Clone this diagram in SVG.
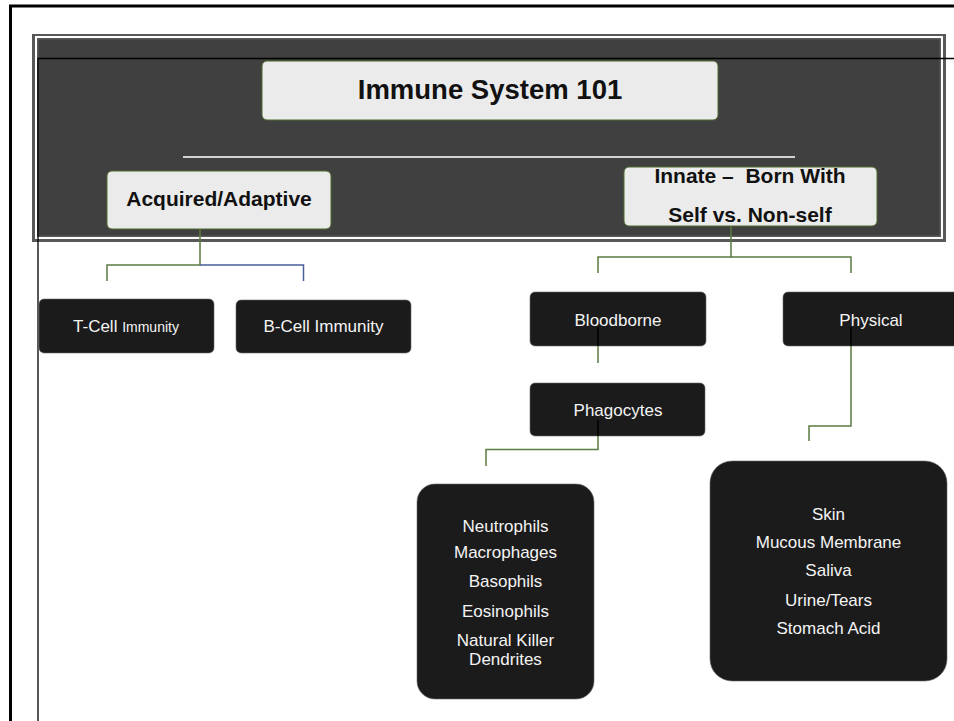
<svg xmlns="http://www.w3.org/2000/svg" width="954" height="721" viewBox="0 0 954 721">
<style>
  .lbl { font-family: "Liberation Sans", Arial, sans-serif; }
  .light { fill: #ebebeb; stroke: #4f6b2e; stroke-width: 1; }
  .dark { fill: #1b1b1b; stroke: #6a6a6a; stroke-width: 0.6; }
  .bold { font-family: "Liberation Sans", Arial, sans-serif; font-weight: bold; fill: #111; text-anchor: middle; }
  .wt { font-family: "Liberation Sans", Arial, sans-serif; font-size: 17px; fill: #f4f4f4; text-anchor: middle; }
  .g { stroke: #5b7b40; stroke-width: 1.5; fill: none; }
  .b { stroke: #4a5f99; stroke-width: 1.5; fill: none; }
  .k { stroke: #000; stroke-width: 1.5; fill: none; }
</style>
<rect width="954" height="721" fill="#ffffff"/>
<g id="frame">
  <path d="M10.5 721 V6 H954" fill="none" stroke="#000" stroke-width="3"/>
</g>
<g id="panel">
  <rect x="32" y="34" width="914" height="208" fill="#595959"/>
  <rect x="35" y="36" width="908" height="203" fill="#ffffff"/>
  <rect x="37" y="38" width="904" height="199" fill="#5a5a5a"/>
  <rect x="38.5" y="39.5" width="901" height="196" fill="#404040"/>
  <line x1="183" y1="157" x2="795" y2="157" stroke="#d4d4d4" stroke-width="2.2"/>
</g>
<g id="guide">
  <path d="M38 721 V58.5 H954" fill="none" stroke="#000" stroke-width="1.3"/>
</g>
<g id="connectors">
  <path class="g" d="M200 229 V265 H107 V281"/>
  <path class="b" d="M200 265 H303.5 V281"/>
  <path class="g" d="M731 226 V257 H598 V273"/>
  <path class="g" d="M731 257 H851 V273"/>
</g>
<g id="title">
  <rect class="light" x="262" y="61" width="456" height="59" rx="5"/>
  <text class="bold" x="490" y="99" font-size="27.5">Immune System 101</text>
</g>
<g id="acquired">
  <rect class="light" x="107" y="171" width="224" height="58" rx="5"/>
  <text class="bold" x="219" y="206" font-size="21">Acquired/Adaptive</text>
</g>
<g id="innate">
  <rect class="light" x="624" y="167" width="253" height="59" rx="5"/>
  <text class="bold" x="750" y="182.5" font-size="21" xml:space="preserve">Innate –  Born With</text>
  <text class="bold" x="750" y="221.5" font-size="21">Self vs. Non-self</text>
</g>
<g id="tcell">
  <rect class="dark" x="39" y="299" width="175" height="54" rx="5"/>
  <text class="wt" x="126" y="332">T-Cell <tspan font-size="14">Immunity</tspan></text>
</g>
<g id="bcell">
  <rect class="dark" x="236" y="300" width="175" height="53" rx="5"/>
  <text class="wt" x="323.5" y="332">B-Cell Immunity</text>
</g>
<g id="bloodborne">
  <rect class="dark" x="530" y="292" width="176" height="54" rx="5"/>
  <text class="wt" x="618" y="325.5">Bloodborne</text>
</g>
<g id="physical">
  <rect class="dark" x="783" y="292" width="176" height="54" rx="5"/>
  <text class="wt" x="871" y="325.5">Physical</text>
</g>
<g id="phagocytes">
  <rect class="dark" x="530" y="383" width="175" height="53" rx="5"/>
  <text class="wt" x="618" y="416">Phagocytes</text>
</g>
<g id="phagocyte-list">
  <rect class="dark" x="417" y="484" width="177" height="215" rx="18"/>
  <text class="wt" x="505.5" y="531.5">Neutrophils</text>
  <text class="wt" x="505.5" y="557.5">Macrophages</text>
  <text class="wt" x="505.5" y="586.5">Basophils</text>
  <text class="wt" x="505.5" y="616.5">Eosinophils</text>
  <text class="wt" x="505.5" y="645.5">Natural Killer</text>
  <text class="wt" x="505.5" y="664.5">Dendrites</text>
</g>
<g id="physical-list">
  <rect class="dark" x="710" y="461" width="237" height="220" rx="22"/>
  <text class="wt" x="828.5" y="520">Skin</text>
  <text class="wt" x="828.5" y="547.5">Mucous Membrane</text>
  <text class="wt" x="828.5" y="576">Saliva</text>
  <text class="wt" x="828.5" y="605.5">Urine/Tears</text>
  <text class="wt" x="828.5" y="634">Stomach Acid</text>
</g>
<g id="connectors-lower">
  <path class="k" d="M598 327 V346"/>
  <path class="g" d="M598 346 V363"/>
  <path class="k" d="M598 420 V436"/>
  <path class="g" d="M598 436 V449.5 H486 V466"/>
  <path class="k" d="M851 327 V346"/>
  <path class="g" d="M851 346 V426 H809 V441"/>
</g>
</svg>
